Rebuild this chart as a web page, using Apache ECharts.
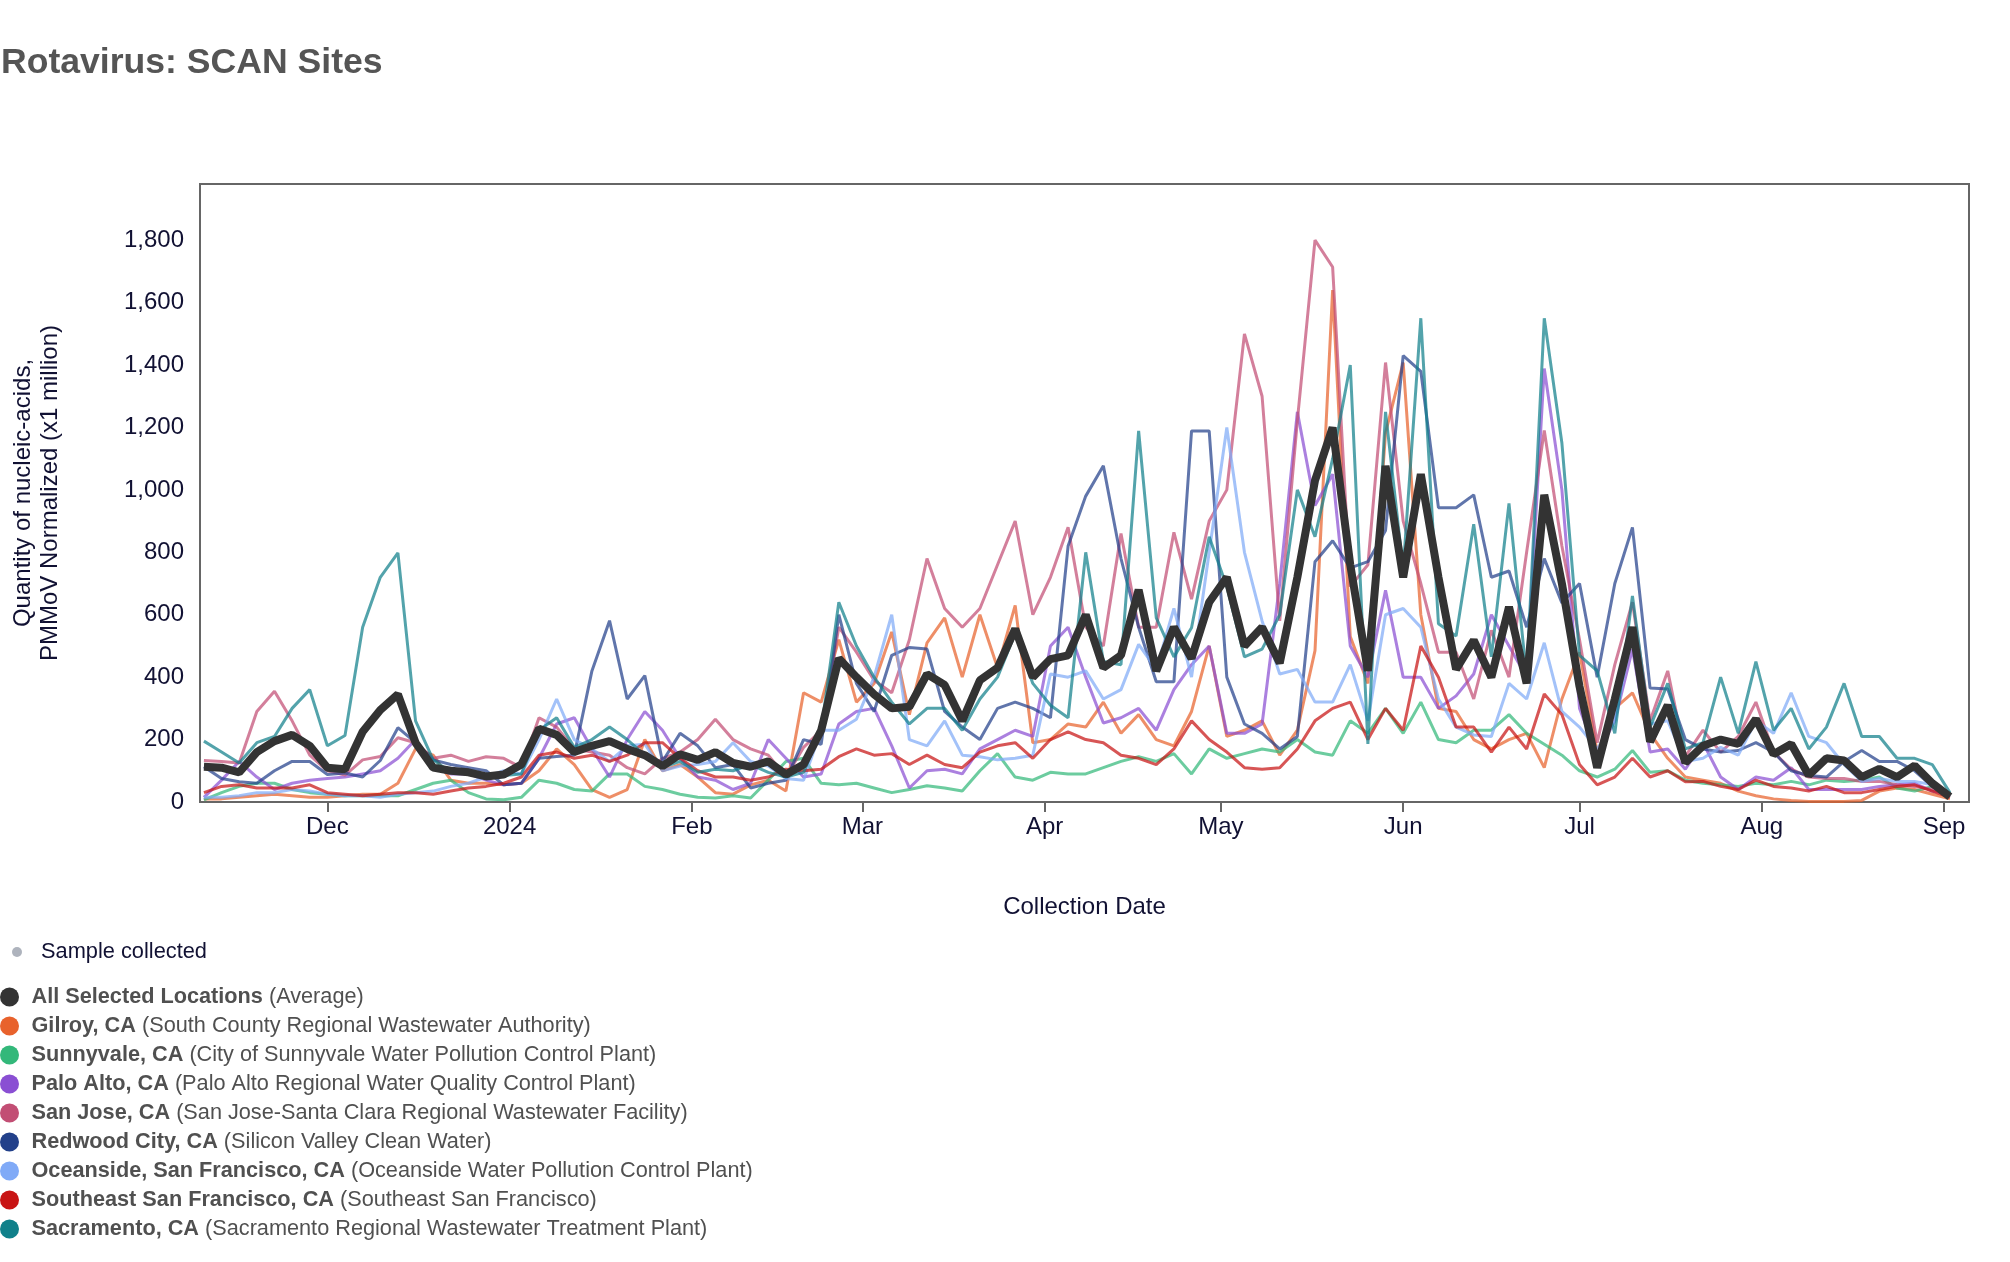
<!DOCTYPE html>
<html>
<head>
<meta charset="utf-8">
<title>Rotavirus: SCAN Sites</title>
<script src="https://cdn.jsdelivr.net/npm/echarts@6/dist/echarts.min.js"></script>
<style>
  html, body { margin: 0; padding: 0; background: #fff; }
  #chart { width: 2010px; height: 1262px; }
</style>
</head>
<body>
<div id="chart"></div>
<script>
// samples every 3 days, starting 2023-11-10
var startDate = [2023, 10, 10];
var stepDays = 3;

var siteNames = [
    'All Selected Locations', 'Gilroy, CA', 'Sunnyvale, CA', 'Palo Alto, CA', 'San Jose, CA',
    'Redwood City, CA', 'Oceanside, San Francisco, CA', 'Southeast San Francisco, CA', 'Sacramento, CA'
];
var facilityNames = [
    '(Average)', '(South County Regional Wastewater Authority)', '(City of Sunnyvale Water Pollution Control Plant)',
    '(Palo Alto Regional Water Quality Control Plant)', '(San Jose-Santa Clara Regional Wastewater Facility)',
    '(Silicon Valley Clean Water)', '(Oceanside Water Pollution Control Plant)', '(Southeast San Francisco)',
    '(Sacramento Regional Wastewater Treatment Plant)'
];
var siteColors = ['#333333', '#e8622c', '#33b87a', '#8a4fd3', '#c24e74', '#22408a', '#80aaf7', '#c81414', '#10808a'];

var average = [113,110,95,160,195,215,180,110,105,225,295,345,190,110,100,95,82,88,120,235,215,160,180,195,170,150,
    115,153,135,160,125,113,130,88,120,230,460,400,345,300,305,410,375,260,390,430,555,400,458,470,600,430,
    470,680,420,560,460,640,720,500,560,445,720,1030,1200,760,420,1077,720,1050,720,425,518,400,625,380,984,
    700,370,110,330,560,193,310,126,180,200,186,266,153,186,86,140,133,80,106,80,117,60,17];
var gilroy = [10,10,15,20,25,20,15,15,20,25,25,60,170,150,70,60,60,55,60,100,170,120,40,15,40,200,
    100,120,80,30,25,55,70,35,350,320,520,320,380,545,280,510,590,400,600,430,630,190,200,250,240,320,
    220,280,200,180,290,500,210,230,260,150,230,485,1640,530,380,1183,1408,600,300,290,200,170,200,220,110,
    330,480,160,300,350,220,140,80,70,60,35,20,10,5,2,2,2,5,35,45,40,25,10];
var sunnyvale = [7,30,50,60,60,40,30,25,20,20,20,20,40,60,70,30,10,7,15,70,60,40,35,90,90,50,
    40,25,15,13,20,13,70,130,140,60,55,60,45,30,40,52,45,35,100,155,80,70,95,90,90,110,
    130,145,130,155,90,170,140,155,170,160,200,160,150,260,220,300,220,320,200,190,230,230,280,220,185,
    150,100,80,105,165,95,100,70,60,55,50,60,55,66,55,70,66,70,80,45,35,50,25];
var paloAlto = [15,70,130,80,40,60,70,75,80,90,100,140,200,110,90,90,70,55,60,140,250,270,170,80,200,290,
    230,140,80,70,40,60,200,140,80,90,250,290,300,180,45,100,105,90,170,200,230,210,500,560,400,253,
    270,300,230,360,440,500,220,220,250,700,1250,950,1050,500,400,678,400,400,300,340,410,600,500,400,1389,
    1000,300,150,260,490,160,170,105,190,80,40,80,70,110,40,40,40,40,50,55,60,35,25];
var sanJose = [133,130,125,290,355,260,150,100,86,135,146,206,190,140,150,130,145,140,110,270,240,170,160,150,110,90,
    140,160,200,265,200,170,150,80,175,230,560,480,390,350,520,780,620,560,620,760,900,600,720,880,560,500,
    860,560,560,864,650,900,1000,1500,1300,580,1222,1800,1714,690,760,1408,900,700,480,480,330,550,400,800,1190,
    820,520,190,440,640,260,420,146,230,160,210,320,160,105,80,75,75,66,66,55,50,40,25];
var redwoodCity = [113,75,65,60,100,130,130,88,93,80,133,238,190,135,120,110,100,55,60,140,146,150,420,581,330,405,
    130,220,180,110,120,45,60,70,200,185,600,380,290,470,495,490,290,240,200,300,320,300,270,820,980,1077,
    780,560,385,385,1189,1189,400,250,220,170,210,770,837,750,770,870,1430,1380,943,943,984,720,740,560,780,
    638,700,400,700,880,365,362,200,170,160,165,190,160,100,85,80,130,165,130,130,100,50,25];
var oceanside = [15,15,20,30,30,40,35,25,20,20,15,25,30,35,50,60,80,100,90,200,330,200,170,130,180,185,
    100,115,120,130,190,130,115,75,70,230,230,265,400,600,200,180,260,150,145,135,140,150,410,400,420,330,
    360,505,425,620,400,800,1200,800,580,410,425,320,320,440,260,600,620,560,330,240,215,210,380,330,510,
    290,240,170,260,540,250,260,130,140,175,150,260,220,350,210,190,120,66,75,66,66,55,15];
var southeastSF = [30,50,55,45,45,45,55,30,25,20,25,30,30,25,35,45,50,60,80,150,160,140,150,130,150,190,
    190,140,100,80,80,70,80,105,100,105,145,170,150,155,120,150,120,110,160,180,190,140,200,225,200,190,
    150,140,120,170,260,200,160,110,105,110,170,260,300,320,200,300,230,500,400,240,240,160,240,170,346,
    280,120,55,80,140,80,100,65,66,50,40,70,50,45,35,50,30,30,40,50,55,35,15];
var sacramento = [195,160,125,190,210,300,360,180,213,560,720,798,260,135,95,90,80,85,90,230,270,175,200,240,200,150,
    110,130,95,105,100,120,95,80,95,230,640,500,400,320,250,300,300,230,330,400,540,380,310,270,800,450,
    440,1189,590,465,558,850,690,465,490,600,1000,850,1100,1400,186,1250,745,1550,571,532,890,465,957,400,1550,
    1150,470,420,220,660,240,380,170,190,400,220,450,230,300,170,240,380,210,210,140,140,120,30];

var siteValues = [average, gilroy, sunnyvale, paloAlto, sanJose, redwoodCity, oceanside, southeastSF, sacramento];

var dates = [];
for (var i = 0; i < average.length; i++) {
    dates.push(new Date(startDate[0], startDate[1], startDate[2] + i * stepDays).getTime());
}

var font = "'Liberation Sans', Arial, Helvetica, sans-serif";
var axisText = '#111133';
var DAY = 24 * 3600 * 1000;

var series = [];
// colored sites first, the average drawn on top
for (var s = 1; s < siteNames.length; s++) {
    series.push({
        name: siteNames[s],
        type: 'line',
        showSymbol: false,
        symbol: 'none',
        itemStyle: { color: siteColors[s] },
        lineStyle: { width: 3, opacity: 0.72 },
        data: dates.map(function (d, i) { return [d, siteValues[s][i]]; })
    });
}
series.push({
    name: siteNames[0],
    type: 'line',
    symbol: 'none',
    z: 5,
    itemStyle: { color: siteColors[0] },
    lineStyle: { width: 8, color: siteColors[0] },
    data: dates.map(function (d, i) { return [d, average[i]]; })
});
series.push({
    name: 'Sample collected',
    type: 'scatter',
    itemStyle: { color: '#9aa0ac' },
    data: []
});

var chart = echarts.init(document.getElementById('chart'));
chart.setOption({
    animation: false,
    textStyle: { fontFamily: font },
    title: {
        text: 'Rotavirus: SCAN Sites',
        left: 1,
        top: 45,
        padding: 0,
        textStyle: { fontSize: 35.6, fontWeight: 'bold', color: '#555555', fontFamily: font }
    },
    legend: [{
        data: ['Sample collected'],
        orient: 'vertical',
        left: 12,
        top: 941,
        padding: 0,
        icon: 'circle',
        itemWidth: 10,
        itemHeight: 10,
        selectedMode: false,
        textStyle: { fontSize: 21.8, color: axisText, fontFamily: font, padding: [0, 0, 0, 14] }
    }, {
        data: siteNames,
        orient: 'vertical',
        left: 0,
        top: 986,
        padding: 0,
        icon: 'circle',
        itemWidth: 20,
        itemHeight: 19,
        itemGap: 7,
        selectedMode: false,
        formatter: function (name) {
            return '{b|' + name + '} ' + facilityNames[siteNames.indexOf(name)];
        },
        textStyle: {
            fontSize: 21.7,
            lineHeight: 20,
            color: '#505050',
            fontFamily: font,
            padding: [0, 0, 0, 7],
            rich: { b: { fontSize: 21.7, lineHeight: 20, fontWeight: 'bold', color: '#505050', fontFamily: font } }
        }
    }],
    grid: {
        left: 200,
        right: 41,
        top: 184,
        bottom: 460,
        show: true,
        borderColor: '#666666',
        borderWidth: 2,
        backgroundColor: '#ffffff'
    },
    xAxis: {
        type: 'time',
        min: new Date(2023, 10, 9, 8).getTime(),
        max: new Date(2024, 8, 5, 6).getTime(),
        splitNumber: 10,
        minInterval: 28 * DAY,
        name: 'Collection Date',
        nameLocation: 'middle',
        nameGap: 93,
        nameTextStyle: { fontSize: 24, color: axisText, fontFamily: font },
        axisLine: { show: false },
        axisTick: { show: true, length: 10, lineStyle: { color: '#666666', width: 2 } },
        splitLine: { show: false },
        axisLabel: {
            fontSize: 24,
            color: axisText,
            margin: 13,
            fontFamily: font,
            formatter: { year: '{yyyy}', month: '{MMM}', day: '{MMM}' }
        }
    },
    yAxis: {
        type: 'value',
        min: 0,
        max: 1980,
        interval: 200,
        name: 'Quantity of nucleic-acids,\nPMMoV Normalized (x1 million)',
        nameLocation: 'middle',
        nameRotate: 90,
        nameGap: 136,
        nameTextStyle: { fontSize: 24, lineHeight: 27, color: axisText, fontFamily: font },
        axisLine: { show: false },
        axisTick: { show: false },
        splitLine: { show: false },
        axisLabel: {
            fontSize: 24,
            color: axisText,
            margin: 16,
            fontFamily: font,
            showMaxLabel: false,
            formatter: function (v) { return v.toLocaleString('en-US'); }
        }
    },
    series: series
});
</script>
</body>
</html>
